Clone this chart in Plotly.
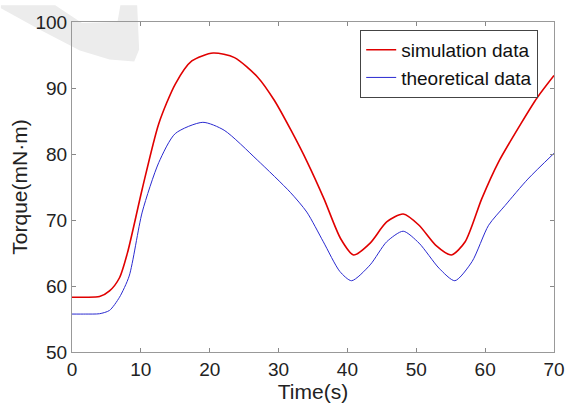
import plotly.graph_objects as go

time_sim = [0, 2, 4.0, 5.45, 6.9, 8.1, 10.2, 12.6, 15, 17.4, 20.5, 23.6, 27, 29.4, 31.8, 34.2, 36.6, 39, 40.9, 43.3, 45.7, 48.1, 50.4, 52.8, 55.1, 57.1, 59.5, 61.9, 65.2, 67.6, 70]
torque_sim = [58.3, 58.3, 58.4, 59.25, 61.25, 65.2, 74.7, 84.6, 90.6, 94.1, 95.3, 94.6, 91.6, 88.1, 83.6, 78.7, 73.2, 67.2, 64.7, 66.5, 69.7, 70.9, 69.2, 66.2, 64.7, 66.7, 73.2, 78.7, 84.6, 88.6, 91.9]

time_theo = [0, 2, 4.0, 5.45, 6.9, 8.3, 10.2, 12.6, 15, 19, 22.1, 26.9, 31.7, 34.1, 36.5, 38.9, 40.6, 43.3, 45.7, 48.1, 50.4, 53.3, 55.6, 58.1, 60.5, 62.9, 66.2, 70]
torque_theo = [55.75, 55.75, 55.8, 56.3, 58.3, 61.5, 71.2, 78.7, 83.1, 84.8, 83.6, 79.1, 74.2, 71.2, 66.7, 62.2, 60.8, 63.2, 66.7, 68.3, 66.5, 62.7, 60.8, 63.7, 69.2, 72.2, 76.2, 80.1]

x_ticks = [0, 10, 20, 30, 40, 50, 60, 70]
y_ticks = [50, 60, 70, 80, 90, 100]

W, H = 577, 408
L, R, T, B = 72, 17, 17, 56
pw, ph = W - L - R, H - T - B

def px(x, y):
    return ((x - L) / pw, (H - B - y) / ph)

band = [(0, 0), (0, 3), (40, 25), (80, 46), (110, 55), (135, 57), (140, 45), (138, 0),
        (121, 0), (118, 17), (82, 18), (55, 0)]
path = "M " + " L ".join("%.4f,%.4f" % px(a, b) for a, b in band) + " Z"

fig = go.Figure()
fig.add_trace(go.Scatter(x=time_sim, y=torque_sim, mode="lines", name="simulation data",
                         line=dict(color="#e00000", width=1.6, shape="spline", smoothing=0.7)))
fig.add_trace(go.Scatter(x=time_theo, y=torque_theo, mode="lines", name="theoretical data",
                         line=dict(color="#2a2ad0", width=1, shape="spline", smoothing=0.7)))

fig.add_shape(type="path", path=path, xref="paper", yref="paper", fillcolor="#ececec",
              line=dict(width=0), layer="below")

fam = "Liberation Sans, Arial, sans-serif"
tick_font = dict(family=fam, size=19, color="#222")
title_font = dict(family=fam, size=21, color="#222")
legend_font = dict(family=fam, size=19, color="#111")
axis_common = dict(showgrid=False, zeroline=False, showline=True, linecolor="#999", linewidth=1,
                   mirror="ticks", ticks="inside", ticklen=4, tickcolor="#888",
                   tickfont=tick_font)
fig.update_layout(
    width=W, height=H, margin=dict(l=L, r=R, t=T, b=B),
    paper_bgcolor="white", plot_bgcolor="rgba(0,0,0,0)",
    font=tick_font,
    xaxis=dict(range=[0, 70], tickvals=x_ticks, title=dict(text="Time(s)", font=title_font, standoff=0), **axis_common),
    yaxis=dict(range=[50, 100], tickvals=y_ticks, title=dict(text="Torque(mN·m)", font=title_font, standoff=2), **axis_common),
    legend=dict(x=(544 - L) / pw, y=(H - B - 25) / ph, xanchor="right", yanchor="top",
                bordercolor="#444", borderwidth=1, bgcolor="white", font=legend_font,
                itemwidth=30, tracegroupgap=0),
    showlegend=True,
)
fig.write_html("out.html")
